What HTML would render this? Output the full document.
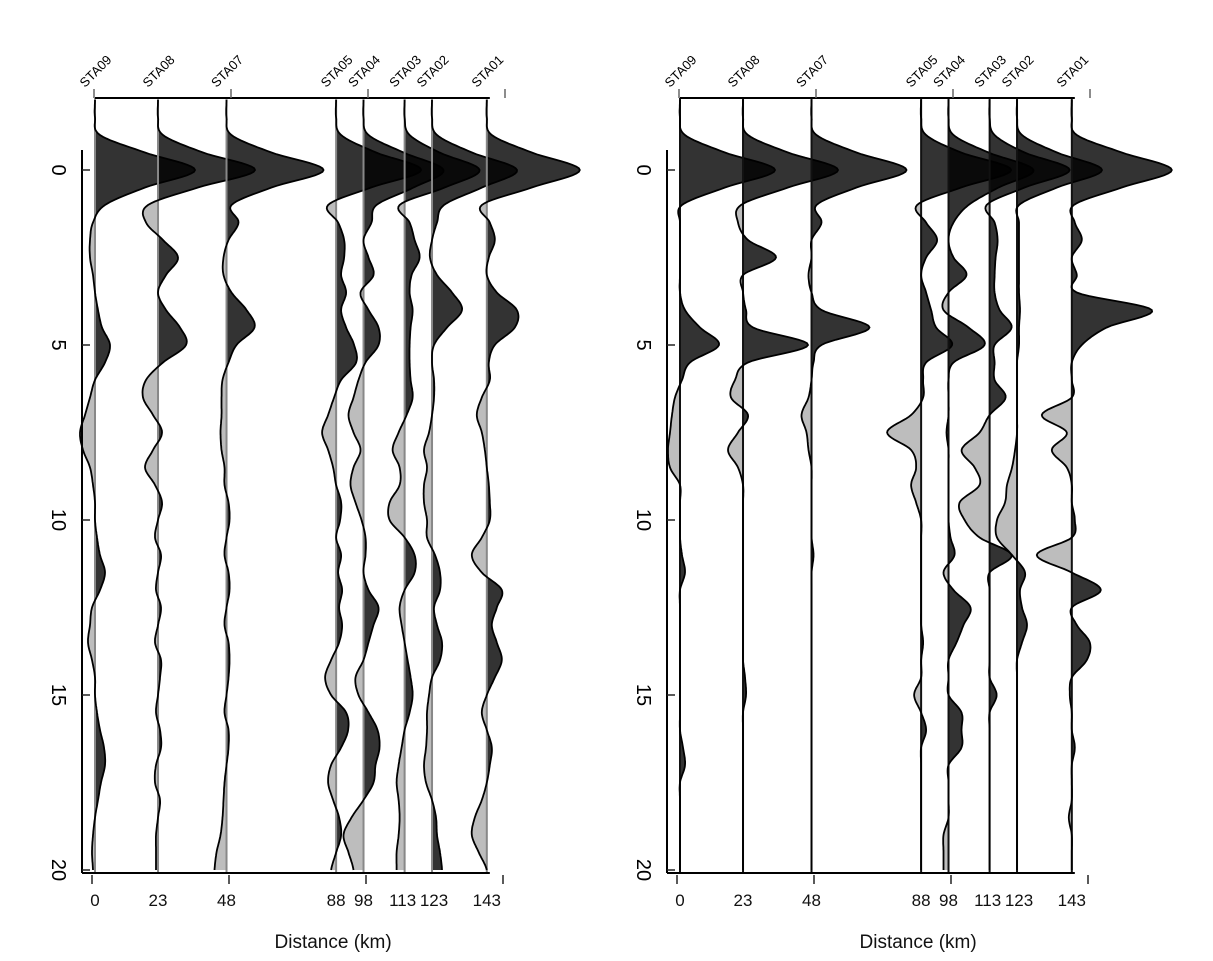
<!DOCTYPE html>
<html><head><meta charset="utf-8"><style>
html,body{margin:0;padding:0;background:#fff;}
svg{display:block;font-family:"Liberation Sans","DejaVu Sans",sans-serif;}
</style></head><body>
<svg id="chart" width="1213" height="961" viewBox="0 0 1213 961" xmlns="http://www.w3.org/2000/svg"></svg>
<script>
// ---- data ----
const stations = ["STA09","STA08","STA07","STA05","STA04","STA03","STA02","STA01"];
const distances = [0,23,48,88,98,113,123,143];
const yTicks = [0,5,10,15,20];
const tStart = -2, tStep = 0.5; // samples from -2 to 20 every 0.5
// Left panel (smooth traces)
const L_STA09 = [0,0,0.05,0.5,1.0,0.5,0.1,-0.02,-0.05,-0.05,-0.02,0,0.03,0.07,0.15,0.1,0,-0.05,-0.1,-0.15,-0.12,-0.05,-0.02,0,0,0.02,0.05,0.1,0.05,-0.03,-0.05,-0.07,-0.03,0,0,0.02,0.05,0.09,0.1,0.06,0.03,0,-0.02,-0.03,-0.02];
const L_STA08 = [0,0,0.05,0.45,0.97,0.4,-0.1,-0.12,0.05,0.2,0.08,0,0.08,0.22,0.28,0.05,-0.12,-0.15,-0.05,0.04,-0.05,-0.13,-0.03,0.04,0,-0.03,0.03,0,-0.02,0.03,0,-0.03,0.03,0.02,0,-0.02,0.02,0.03,-0.02,-0.03,0.02,0,-0.02,-0.02,-0.02];
const L_STA07 = [0,0,0.05,0.45,0.97,0.45,0.05,0.12,0.02,-0.03,-0.03,0.05,0.2,0.28,0.1,0.02,-0.04,-0.05,-0.05,-0.06,-0.05,-0.02,-0.02,0.02,0.03,0,-0.02,0.02,0.03,0,-0.02,0.02,0.03,0.02,0,-0.02,0.02,0.02,0,-0.02,-0.03,-0.04,-0.06,-0.1,-0.12];
const L_STA05 = [0,0,0.05,0.4,0.85,0.35,-0.08,0.02,0.08,0.08,0.05,0.1,0.05,0.1,0.18,0.2,0.05,-0.02,-0.08,-0.14,-0.08,-0.03,0,0.05,0.04,0,0.05,0.02,0.06,0.03,0.06,0.03,-0.05,-0.11,-0.05,0.1,0.12,0.05,-0.05,-0.08,-0.03,0.03,0.05,0,-0.05];
const L_STA04 = [0,0,0.05,0.4,0.8,0.5,0.13,0.08,0,0.05,0.1,-0.03,0.05,0.15,0.15,0.02,-0.05,-0.1,-0.15,-0.1,-0.03,-0.1,-0.13,-0.08,-0.02,0.02,0.02,0,0.05,0.15,0.1,0.05,0,-0.08,-0.05,0.05,0.14,0.16,0.12,0.1,0,-0.12,-0.2,-0.15,-0.1];
const L_STA03 = [0,0,0.05,0.35,0.75,0.4,-0.05,0.05,0.1,0.15,0.07,0.05,0.08,0.06,0.05,0.05,0.06,0.08,0.02,-0.06,-0.12,-0.05,-0.05,-0.15,-0.15,0,0.1,0.1,0,-0.05,-0.03,0,0.03,0.06,0.08,0.05,0,-0.03,-0.06,-0.08,-0.06,-0.05,-0.06,-0.08,-0.08];
const L_STA02 = [0,0,0.05,0.4,0.85,0.5,0.12,0.05,0,-0.02,0.05,0.2,0.3,0.15,0.02,0,0.02,0.02,0,-0.03,-0.08,-0.05,-0.08,-0.08,-0.05,-0.05,0.03,0.08,0.08,0.02,0.05,0.1,0.08,0,-0.03,-0.05,-0.05,-0.06,-0.08,-0.06,0,0.04,0.05,0.08,0.1];
const L_STA01 = [0,0,0.05,0.45,0.93,0.45,-0.05,0.03,0.08,0.02,0,0.1,0.3,0.28,0.08,0.02,0.03,-0.05,-0.1,-0.05,-0.02,0,0.02,0.03,0.03,-0.05,-0.15,-0.05,0.15,0.1,0.05,0.1,0.15,0.08,0,-0.05,0,0.05,0.03,0,-0.05,-0.12,-0.15,-0.08,0];
// Right panel
const R_STA09 = [0,0,0.05,0.45,0.95,0.45,0.02,0,0,0,0,0,0.05,0.2,0.39,0.1,0.02,-0.05,-0.08,-0.1,-0.12,-0.1,0,0,0,0,0.02,0.05,0,0,0,0,0,0,0,0,0,0.03,0.05,0,0,0,0,0,0];
const R_STA08 = [0,0,0.05,0.45,0.95,0.45,-0.02,-0.05,0.05,0.33,0,0,0.03,0.1,0.65,0.05,-0.08,-0.12,0.05,-0.05,-0.15,-0.05,0,0,0,0,0,0,0,0,0,0,0,0.02,0.03,0,0,0,0,0,0,0,0,0,0];
const R_STA07 = [0,0,0.05,0.45,0.95,0.45,0.05,0.1,0,0,-0.03,0,0.1,0.58,0.1,0.02,0,-0.03,-0.1,-0.05,-0.03,0,0,0,0,0,0.02,0,0,0,0,0,0,0,0,0,0,0,0,0,0,0,0,0,0];
const R_STA05 = [0,0,0.05,0.4,0.9,0.4,-0.04,0.05,0.16,0.05,0,0.05,0.1,0.15,0.31,0.05,0.02,0.02,-0.1,-0.34,-0.1,-0.05,-0.1,-0.05,0,0,0,0,0,0,0,0.02,0,0,-0.07,0,0.05,0,0,0,0,0,0,0,0];
const R_STA04 = [0,0,0.05,0.4,0.85,0.5,0.2,0.05,0,0.05,0.18,0,-0.05,0.2,0.36,0.05,0,0,0,-0.02,0,0,0,0,0,0.02,0.06,-0.05,0.05,0.22,0.15,0.08,0,0,0,0.13,0.13,0.13,0,0,0,0,-0.05,-0.05,-0.05];
const R_STA03 = [0,0,0.05,0.35,0.8,0.35,-0.03,0.05,0.08,0.06,0.05,0.05,0.1,0.22,0.05,0.05,0.05,0.16,0,-0.1,-0.28,-0.15,-0.1,-0.3,-0.25,-0.1,0.22,0,0,0,0,0,0,0,0.07,0,0,0,0,0,0,0,0,0,0];
const R_STA02 = [0,0,0.05,0.4,0.85,0.4,0.02,0.02,0.02,0.02,0.02,0.02,0.03,0.02,0.02,0,0,0,0,0,-0.02,-0.05,-0.1,-0.12,-0.2,-0.2,-0.05,0.08,0.03,0.05,0.1,0.05,0,0,0,0,0,0,0,0,0,0,0,0,0];
const R_STA01 = [0,0,0.05,0.5,1.0,0.5,0.02,0.03,0.1,0,0.05,0.05,0.8,0.35,0.1,0,0,0,-0.3,-0.05,-0.2,-0.05,0,0,0.03,0,-0.35,0,0.29,0,0.05,0.18,0.15,0,-0.02,0,0,0.03,0,0,0,-0.03,0,0,0];
const leftTraces = [L_STA09,L_STA08,L_STA07,L_STA05,L_STA04,L_STA03,L_STA02,L_STA01];
const rightTraces = [R_STA09,R_STA08,R_STA07,R_STA05,R_STA04,R_STA03,R_STA02,R_STA01];

// ---- layout ----
const svg = document.getElementById('chart');
const NS = 'http://www.w3.org/2000/svg';
function mk(tag, attrs, parent){const e=document.createElementNS(NS,tag);for(const k in attrs)e.setAttribute(k,attrs[k]);(parent||svg).appendChild(e);return e;}
const yOf = t => 170 + 35*t;
const ampPx = 100;

function interpSmooth(arr, t){
  const f=(t-tStart)/tStep; let i=Math.floor(f); const u=f-i;
  const g=k=>arr[Math.max(0,Math.min(arr.length-1,k))];
  const p0=g(i-1),p1=g(i),p2=g(i+1),p3=g(i+2);
  return 0.5*((2*p1)+(-p0+p2)*u+(2*p0-5*p1+4*p2-p3)*u*u+(-p0+3*p1-3*p2+p3)*u*u*u);
}

function drawPanel(name, x0, scale, traces, grayBase){
  const g = mk('g',{});
  
  
  const xOf = d => x0 + scale*d;
  const xl = x0 - 13, xr = xOf(143)+3;
  traces.forEach((arr, si)=>{
    const bx = xOf(distances[si]);
    const tg = mk('g',{},g);
    
    
    const pts=[];
    for(let t=-2; t<=20.0001; t+=0.05){
      pts.push([t, interpSmooth(arr,t)]);
    }
    let pos='M'+bx+','+yOf(-2), neg='M'+bx+','+yOf(-2), line='';
    pts.forEach(([t,v],k)=>{
      const y=yOf(t).toFixed(1);
      pos+=' L'+(bx+Math.max(v,0)*ampPx).toFixed(1)+','+y;
      neg+=' L'+(bx+Math.min(v,0)*ampPx).toFixed(1)+','+y;
      line+=(k?' L':'M')+(bx+v*ampPx).toFixed(1)+','+y;
    });
    pos+=' L'+bx+','+yOf(20)+' Z'; neg+=' L'+bx+','+yOf(20)+' Z';
    const n = mk('path',{d:neg,fill:'#bdbdbd',stroke:'none'},tg);
    
    
    const p = mk('path',{d:pos,fill:'#000','fill-opacity':'0.8',stroke:'none'},tg);
    
    
    const b = mk('line',{x1:bx,y1:98,x2:bx,y2:873,stroke:grayBase?'#888':'#111','stroke-width':2},tg);
    
    
    const l = mk('path',{d:line,fill:'none',stroke:'#000','stroke-width':1.8},tg);
    
    
    const lx = bx-10, ly = 88;
    const lab = mk('text',{x:lx,y:ly,'font-size':13,'text-anchor':'start',transform:'rotate(-45 '+lx+' '+ly+')'},g);
    lab.textContent = stations[si];
    
    
    const dl = mk('text',{x:bx+(si==5?-2:si==6?2:0),y:906,'font-size':17,'text-anchor':'middle',fill:'#111'},g);
    dl.textContent = distances[si];
    
    
  });
  const top = mk('line',{x1:xOf(0),y1:98,x2:xr,y2:98,stroke:'#000','stroke-width':2},g);
   
  const bot = mk('line',{x1:xl,y1:873,x2:xr,y2:873,stroke:'#000','stroke-width':2},g);
   
  const left = mk('line',{x1:xl,y1:150,x2:xl,y2:873,stroke:'#000','stroke-width':2},g);
   
  [0,50,100,150].forEach(d=>{
    const tx = x0-3 + 2.74*d;
    const tk = mk('line',{x1:tx,y1:875,x2:tx,y2:884,stroke:'#222','stroke-width':1.5},g);
     
    const tt = mk('line',{x1:tx+2,y1:89,x2:tx+2,y2:98,stroke:'#666','stroke-width':1.5},g);
     
  });
  yTicks.forEach(t=>{
    const y=yOf(t);
    const tk = mk('line',{x1:xl,y1:y,x2:xl+8,y2:y,stroke:'#222','stroke-width':1.5},g);
     
    const cx = xl-24;
    const tl = mk('text',{x:cx,y:y,'font-size':20,'text-anchor':'middle','dominant-baseline':'central',transform:'rotate(90 '+cx+' '+y+')'},g);
    tl.textContent = t;
     
  });
  const xt = mk('text',{x:xOf(88)-3,y:948,'font-size':19,'text-anchor':'middle',fill:'#111'},g);
  xt.textContent='Distance (km)';
   
}
drawPanel('left-panel', 95, 2.74, leftTraces, true);
drawPanel('right-panel', 680, 2.74, rightTraces, false);
</script>
</body></html>
